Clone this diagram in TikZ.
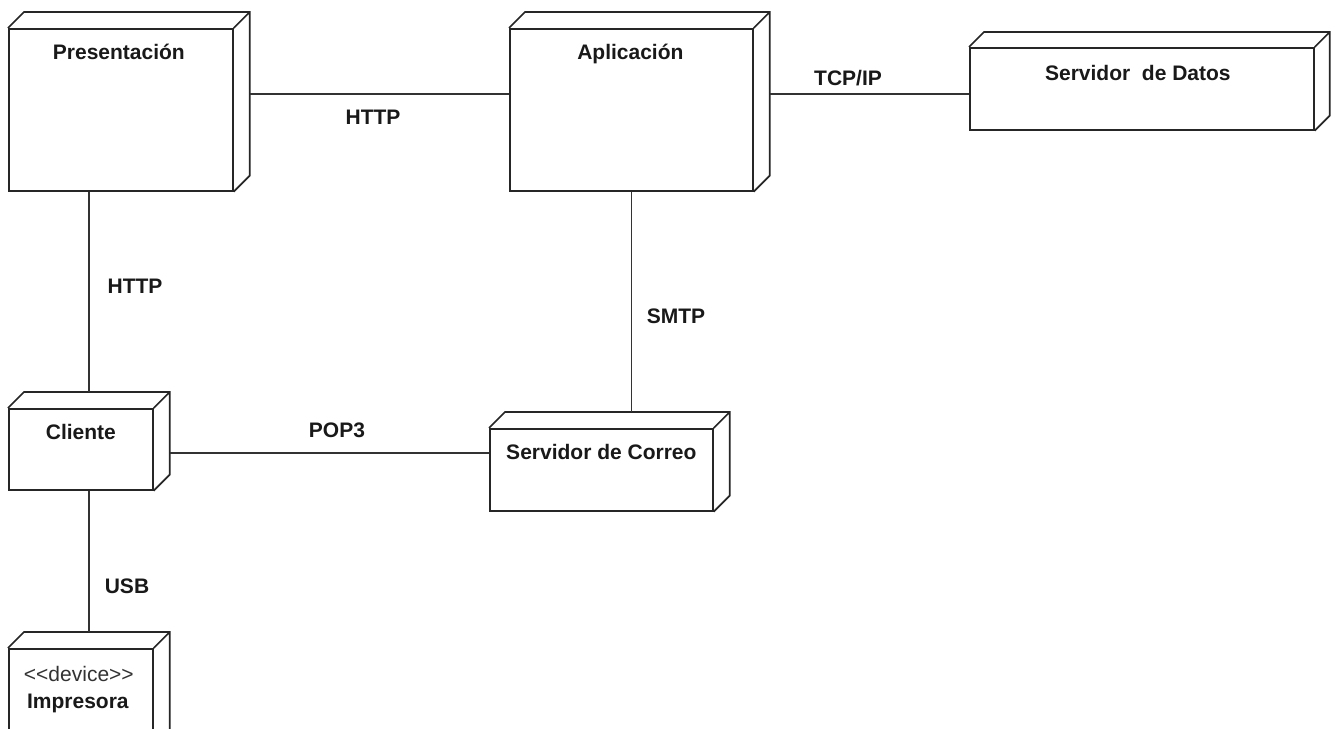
\documentclass[tikz,border=0pt]{standalone}
\usepackage{fontspec}
\setmainfont{Liberation Sans}
\usetikzlibrary{calc}
\tikzset{
  face/.style={draw=black!85, fill=white, line width=1.7pt, inner sep=0pt, anchor=north west},
  edgeline/.style={draw=black!85, line width=1.7pt, line join=miter},
  conn/.style={draw=black!80, line width=1.4pt},
  lbl/.style={font=\bfseries\fontsize{21}{25}\selectfont, inner sep=0pt, anchor=base, text=black!90},
  stereo/.style={font=\fontsize{21}{25}\selectfont, inner sep=0pt, anchor=base, text=black!80},
}
\newcommand\nodedepth[2]{%
  \draw[edgeline] (#1.north west) -- ++(#2,-#2) -| ([shift={(#2pt,#2pt)}]#1.south east) -- (#1.south east)
    (#1.north east) -- ++(#2,-#2);}
\begin{document}
\begin{tikzpicture}[x=1pt,y=-1pt]
\useasboundingbox (0,0) rectangle (1335,728);
\fill[white] (0,0) rectangle (1335,728);
\clip (0,0) rectangle (1335,728);
% nodes (front faces)
\node[face, minimum width=224, minimum height=162] (pres) at (8,28) {};
\node[face, minimum width=243, minimum height=162] (app) at (509,28) {};
\node[face, minimum width=344, minimum height=82] (dat) at (969,47) {};
\node[face, minimum width=144, minimum height=81] (cli) at (8,408) {};
\node[face, minimum width=223, minimum height=82] (cor) at (489,428) {};
\node[face, minimum width=144, minimum height=120] (imp) at (8,648) {};
\nodedepth{pres}{16}
\nodedepth{app}{16}
\nodedepth{dat}{15}
\nodedepth{cli}{16}
\nodedepth{cor}{16}
\nodedepth{imp}{16}
% node texts
\node[lbl] (presT) at ([shift={(-2pt,-31pt)}]pres.north) {Presentación};
\node[lbl] (appT) at ([shift={(-1pt,-31pt)}]app.north) {Aplicación};
\node[lbl] (datT) at ([shift={(-4pt,-33pt)}]dat.north) {Servidor\ \ de Datos};
\node[lbl] (cliT) at ([shift={(0pt,-31pt)}]cli.north) {Cliente};
\node[lbl] (corT) at ([shift={(0pt,-31pt)}]cor.north) {Servidor de Correo};
\node[stereo] (impS) at ([shift={(-2pt,-33pt)}]imp.north) {<\kern0pt<device>\kern0pt>};
\node[lbl] (impT) at ([shift={(-3pt,-60pt)}]imp.north) {Impresora};
% connectors
\coordinate (c1) at ([shift={(16pt,16pt)}]pres.east);
\draw[conn] (c1) -- (c1 -| app.west);
\coordinate (c2) at ([shift={(16pt,16pt)}]app.east);
\draw[conn] (c2) -- (c2 -| dat.west);
\coordinate (c3) at ([shift={(8pt,16pt)}]cli.north);
\draw[conn] (c3 |- pres.south) -- (c3);
\coordinate (c4) at ([xshift=8pt]cli.south);
\coordinate (c4b) at ([yshift=16pt]imp.north);
\draw[conn] (c4) -- (c4 |- c4b);
\coordinate (c5) at ([yshift=16pt]cor.north);
\draw[conn] (app.south) -- (app.south |- c5);
\coordinate (c6) at ([shift={(16pt,-3.5pt)}]cli.east);
\draw[conn] (c6) -- (c6 -| cor.west);
% connector labels
\node[lbl] (l1) at (373,124) {HTTP};
\node[lbl] (l2) at (848,85) {TCP/IP};
\node[lbl] (l3) at (135,293) {HTTP};
\node[lbl] (l4) at (676,323) {SMTP};
\node[lbl] (l5) at (337,437) {POP3};
\node[lbl] (l6) at (127,593) {USB};
\end{tikzpicture}
\end{document}
